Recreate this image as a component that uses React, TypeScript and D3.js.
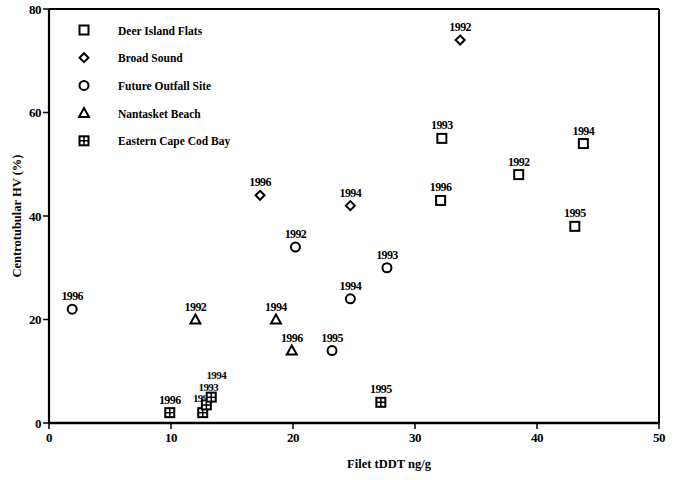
import React from "react";
import * as d3 from "d3";

const seriesNames = ["Deer Island Flats", "Broad Sound", "Future Outfall Site", "Nantasket Beach", "Eastern Cape Cod Bay"];
const seriesShapes = ["square", "diamond", "circle", "triangle", "crossSquare"];

const deerIsland = [
  { year: "1993", x: 32.2, y: 55 },
  { year: "1996", x: 32.1, y: 43 },
  { year: "1992", x: 38.5, y: 48 },
  { year: "1994", x: 43.8, y: 54 },
  { year: "1995", x: 43.1, y: 38 },
];
const broadSound = [
  { year: "1992", x: 33.7, y: 74 },
  { year: "1994", x: 24.7, y: 42 },
  { year: "1996", x: 17.3, y: 44 },
];
const futureOutfall = [
  { year: "1992", x: 20.2, y: 34 },
  { year: "1993", x: 27.7, y: 30 },
  { year: "1994", x: 24.7, y: 24 },
  { year: "1995", x: 23.2, y: 14 },
  { year: "1996", x: 1.9, y: 22 },
];
const nantasket = [
  { year: "1992", x: 12.0, y: 20 },
  { year: "1994", x: 18.6, y: 20 },
  { year: "1996", x: 19.9, y: 14 },
];
const capeCod = [
  { year: "1996", x: 9.9, y: 2 },
  { year: "1992", x: 12.6, y: 2 },
  { year: "1993", x: 12.9, y: 3.5 },
  { year: "1994", x: 13.3, y: 5 },
  { year: "1995", x: 27.2, y: 4 },
];
const allSeries = [deerIsland, broadSound, futureOutfall, nantasket, capeCod];

const xTicks = [0, 10, 20, 30, 40, 50];
const yTicks = [0, 20, 40, 60, 80];
const xTitle = "Filet tDDT ng/g";
const yTitle = "Centrotubular HV (%)";

const FONT = "'Liberation Serif', 'DejaVu Serif', serif";

// label placement tweaks for the crowded Cape Cod Bay cluster (series index 4)
const clusterLabelBaseline: Record<string, [number, number]> = {
  "1992": [0, 402],
  "1993": [2, 390.5],
  "1994": [5, 379],
};

function Symbol({ shape, cx, cy }: { shape: string; cx: number; cy: number }) {
  const s = 4.5;
  const common = { fill: "white", stroke: "black", strokeWidth: 2 };
  if (shape === "square")
    return <rect x={cx - s} y={cy - s} width={2 * s} height={2 * s} {...common} />;
  if (shape === "diamond")
    return <path d={`M${cx},${cy - 4.5}L${cx + 4.5},${cy}L${cx},${cy + 4.5}L${cx - 4.5},${cy}Z`} {...common} />;
  if (shape === "circle") return <circle cx={cx} cy={cy} r={4.5} {...common} />;
  if (shape === "triangle")
    return <path d={`M${cx},${cy - 5}L${cx + 5},${cy + 4}L${cx - 5},${cy + 4}Z`} {...common} />;
  return (
    <g>
      <rect x={cx - 4.5} y={cy - 4.5} width={9} height={9} {...common} />
      <path d={`M${cx},${cy - 4.5}V${cy + 4.5}M${cx - 4.5},${cy}H${cx + 4.5}`} stroke="black" strokeWidth={1.5} />
    </g>
  );
}

export default function App() {
  const left = 49, right = 659, top = 9, bottom = 423;
  const x = d3.scaleLinear().domain([0, 50]).range([left, right]);
  const y = d3.scaleLinear().domain([0, 80]).range([bottom, top]);

  return (
    <svg width={683} height={480} style={{ position: "absolute", left: 0, top: 0, background: "white" }} fontFamily={FONT}>
      <rect width={683} height={480} fill="white" />
      {/* frame */}
      <line x1={left} x2={right} y1={top} y2={top} stroke="black" strokeWidth={2} />
      <line x1={right} x2={right} y1={top} y2={bottom} stroke="black" strokeWidth={2} />
      <line x1={left} x2={left} y1={top} y2={bottom + 1} stroke="black" strokeWidth={2.2} />
      <line x1={left - 1} x2={right} y1={bottom} y2={bottom} stroke="black" strokeWidth={2.5} />
      {xTicks.map((t) => (
        <g key={"x" + t}>
          <line x1={x(t)} x2={x(t)} y1={bottom} y2={bottom + 6} stroke="black" strokeWidth={1.5} />
          <text x={x(t)} y={bottom + 19} textAnchor="middle" fontSize={13} fontWeight="bold" letterSpacing={-0.5}>{t}</text>
        </g>
      ))}
      {yTicks.map((t) => (
        <g key={"y" + t}>
          <line x1={left - 6} x2={left} y1={y(t)} y2={y(t)} stroke="black" strokeWidth={1.5} />
          <text x={left - 8} y={y(t) + 4.5} textAnchor="end" fontSize={13} fontWeight="bold" letterSpacing={-0.5}>{t}</text>
        </g>
      ))}
      <text x={(left + right) / 2 + 35} y={468} textAnchor="middle" fontSize={12.5} fontWeight="bold">{xTitle}</text>
      <text transform={`translate(21,${(top + bottom) / 2}) rotate(-90)`} textAnchor="middle" fontSize={12.5} fontWeight="bold">{yTitle}</text>
      {/* legend */}
      {seriesNames.map((n, i) => (
        <g key={n}>
          <Symbol shape={seriesShapes[i]} cx={84} cy={30 + i * 27.7} />
          <text x={118} y={34.5 + i * 27.7} fontSize={11.5} fontWeight="bold">{n}</text>
        </g>
      ))}
      {/* points */}
      {allSeries.map((ser, i) => (
        <g key={i}>
          {ser.map((d, j) => {
            const adj = i === 4 ? clusterLabelBaseline[d.year] : undefined;
            const lx = x(d.x) + (adj ? adj[0] : 0);
            const ly = adj ? adj[1] : y(d.y) - 9;
            return (
              <g key={j}>
                <Symbol shape={seriesShapes[i]} cx={x(d.x)} cy={y(d.y)} />
                <text x={lx} y={ly} textAnchor="middle" fontSize={adj ? 11 : 12} fontWeight="bold" letterSpacing={-0.6}>{d.year}</text>
              </g>
            );
          })}
        </g>
      ))}
    </svg>
  );
}
